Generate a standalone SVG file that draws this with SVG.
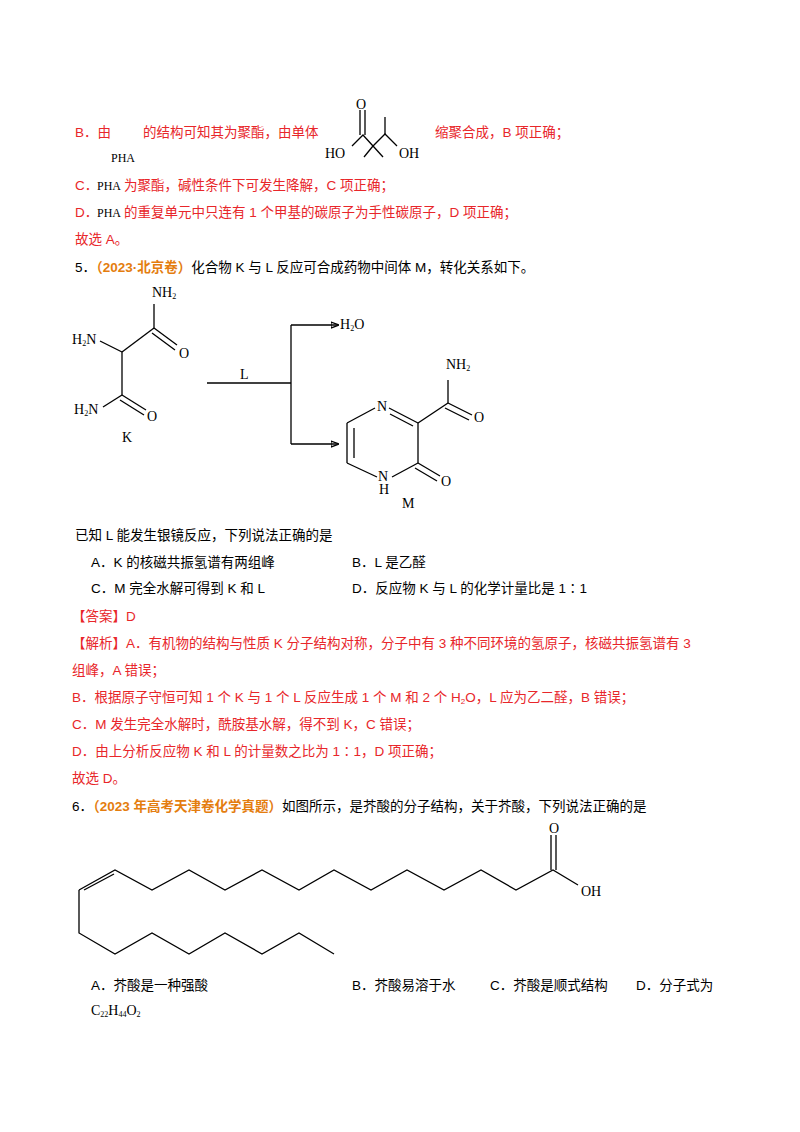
<svg xmlns="http://www.w3.org/2000/svg" width="800" height="1132" viewBox="0 0 800 1132">
<style>
text{font-family:"Liberation Sans","Noto Sans CJK SC",sans-serif;font-size:13.5px;fill:#000}
.r{fill:#e8262a}
.o{fill:#e47d0f;font-weight:bold}
.s{font-family:"Liberation Serif","Noto Sans CJK SC",serif;font-size:14px}
.sm{font-family:"Liberation Serif",serif;font-size:12px}
line,polyline,path{stroke:#000;stroke-width:1.3;fill:none}
</style>
<defs><marker id="ah" markerWidth="8" markerHeight="8" refX="7" refY="4" orient="auto" markerUnits="userSpaceOnUse"><path d="M0,1 L8,4 L0,7 Z" fill="#000" stroke="none"/></marker></defs>
<rect width="800" height="1132" fill="#fff"/>
<g id="text-top">
<text x="75" y="137" class="r">B．由</text>
<text x="143" y="137" class="r">的结构可知其为聚酯，由单体</text>
<text x="435" y="137" class="r">缩聚合成，B 项正确；</text>
<text x="111" y="162" class="sm">PHA</text>
<text x="75" y="190" class="r">C．</text><text x="97" y="190" class="sm">PHA</text><text x="124" y="190" class="r">为聚酯，碱性条件下可发生降解，C 项正确；</text>
<text x="75" y="217" class="r">D．</text><text x="97" y="217" class="sm">PHA</text><text x="124" y="217" class="r">的重复单元中只连有 1 个甲基的碳原子为手性碳原子，D 项正确；</text>
<text x="75" y="244" class="r">故选 A。</text>
<text x="75" y="272">5．<tspan class="o">（2023·北京卷）</tspan>化合物 K 与 L 反应可合成药物中间体 M，转化关系如下。</text>
</g>
<g id="monomer">
<line x1="360" y1="110" x2="360" y2="135"/><line x1="365" y1="110" x2="365" y2="135"/>
<text x="356" y="109" class="s">O</text>
<polyline points="352,146 363,135 373,146 385,134 397,146"/>
<line x1="373" y1="146" x2="364" y2="157"/><line x1="373" y1="146" x2="383" y2="157"/>
<line x1="385" y1="134" x2="385" y2="117"/>
<text x="325" y="158" class="s">HO</text><text x="399" y="158" class="s">OH</text>
</g>
<g id="K">
<text x="152" y="297" class="s">NH<tspan font-size="8" dy="2">2</tspan></text>
<line x1="154" y1="304" x2="154" y2="328"/>
<line x1="154" y1="328" x2="177" y2="345"/><line x1="152" y1="333" x2="175" y2="350"/>
<text x="179" y="358" class="s">O</text>
<line x1="154" y1="328" x2="122" y2="352"/>
<line x1="100" y1="341" x2="122" y2="352"/>
<text x="72" y="344" class="s">H<tspan font-size="8" dy="2">2</tspan><tspan dy="-2">N</tspan></text>
<line x1="122" y1="352" x2="122" y2="395"/>
<line x1="122" y1="395" x2="146" y2="410"/><line x1="120" y1="400" x2="144" y2="415"/>
<text x="147" y="421" class="s">O</text>
<line x1="122" y1="395" x2="103" y2="407"/>
<text x="74" y="414" class="s">H<tspan font-size="8" dy="2">2</tspan><tspan dy="-2">N</tspan></text>
<text x="122" y="442" class="s">K</text>
</g>
<g id="connectors">
<line x1="207" y1="383" x2="291" y2="383"/>
<line x1="291" y1="325" x2="291" y2="444"/>
<line x1="291" y1="325" x2="338" y2="325" marker-end="url(#ah)"/>
<line x1="291" y1="444" x2="338" y2="444" marker-end="url(#ah)"/>
<text x="240" y="379" class="s">L</text>
<text x="340" y="329" class="s">H<tspan font-size="8" dy="2">2</tspan><tspan dy="-2">O</tspan></text>
</g>
<g id="M">
<line x1="389" y1="408" x2="418" y2="423"/><line x1="390" y1="414" x2="413" y2="426"/>
<line x1="418" y1="423" x2="418" y2="463"/>
<line x1="418" y1="463" x2="392" y2="477"/>
<line x1="377" y1="477" x2="347" y2="463"/>
<line x1="347" y1="463" x2="347" y2="423"/><line x1="354" y1="458" x2="354" y2="428"/>
<line x1="347" y1="423" x2="375" y2="408"/>
<text x="377" y="411" class="s">N</text>
<text x="378" y="481" class="s">N</text><text x="379" y="494" class="s">H</text>
<line x1="418" y1="423" x2="448" y2="403"/>
<line x1="448" y1="403" x2="448" y2="380"/>
<text x="446" y="369" class="s">NH<tspan font-size="8" dy="2">2</tspan></text>
<line x1="448" y1="403" x2="472" y2="415"/><line x1="445" y1="408" x2="469" y2="420"/>
<text x="474" y="422" class="s">O</text>
<line x1="418" y1="463" x2="440" y2="476"/><line x1="415" y1="468" x2="437" y2="481"/>
<text x="441" y="486" class="s">O</text>
<text x="402" y="508" class="s">M</text>
</g>
<g id="text-mid">
<text x="75" y="540">已知 L 能发生银镜反应，下列说法正确的是</text>
<text x="91" y="567">A．K 的核磁共振氢谱有两组峰</text>
<text x="352" y="567">B．L 是乙醛</text>
<text x="91" y="593">C．M 完全水解可得到 K 和 L</text>
<text x="352" y="593">D．反应物 K 与 L 的化学计量比是 1∶1</text>
<text x="72" y="621" class="r">【答案】D</text>
<text x="72" y="648" class="r">【解析】A．有机物的结构与性质  K 分子结构对称，分子中有 3 种不同环境的氢原子，核磁共振氢谱有 3</text>
<text x="72" y="675" class="r">组峰，A 错误；</text>
<text x="72" y="702" class="r">B．根据原子守恒可知 1 个 K 与 1 个 L 反应生成 1 个 M 和 2 个 H<tspan font-size="8" dy="2">2</tspan><tspan dy="-2">O，L 应为乙二醛，B 错误；</tspan></text>
<text x="72" y="729" class="r">C．M 发生完全水解时，酰胺基水解，得不到 K，C 错误；</text>
<text x="72" y="756" class="r">D．由上分析反应物 K 和 L 的计量数之比为 1∶1，D 项正确；</text>
<text x="72" y="783" class="r">故选 D。</text>
<text x="72" y="811">6．<tspan class="o">（2023 年高考天津卷化学真题）</tspan>如图所示，是芥酸的分子结构，关于芥酸，下列说法正确的是</text>
</g>
<g id="erucic">
<polyline points="79,890 115,870 152,890 189,870 225,890 262,870 299,890 334,870 371,890 407,870 444,890 481,870 516,890 553,870 578,885"/>
<line x1="84" y1="890" x2="114" y2="874"/>
<polyline points="79,890 79,933 115,954 152,933 189,954 225,933 262,954 299,933 334,954"/>
<line x1="551" y1="870" x2="551" y2="835"/><line x1="556" y1="870" x2="556" y2="835"/>
<text x="549" y="833" class="s">O</text>
<text x="581" y="896" class="s">OH</text>
</g>
<g id="text-bottom">
<text x="91" y="990">A．芥酸是一种强酸</text>
<text x="352" y="990">B．芥酸易溶于水</text>
<text x="490" y="990">C．芥酸是顺式结构</text>
<text x="636" y="990">D．分子式为</text>
<text x="91" y="1015" class="s">C<tspan font-size="8" dy="2">22</tspan><tspan dy="-2">H</tspan><tspan font-size="8" dy="2">44</tspan><tspan dy="-2">O</tspan><tspan font-size="8" dy="2">2</tspan></text>
</g>
</svg>
